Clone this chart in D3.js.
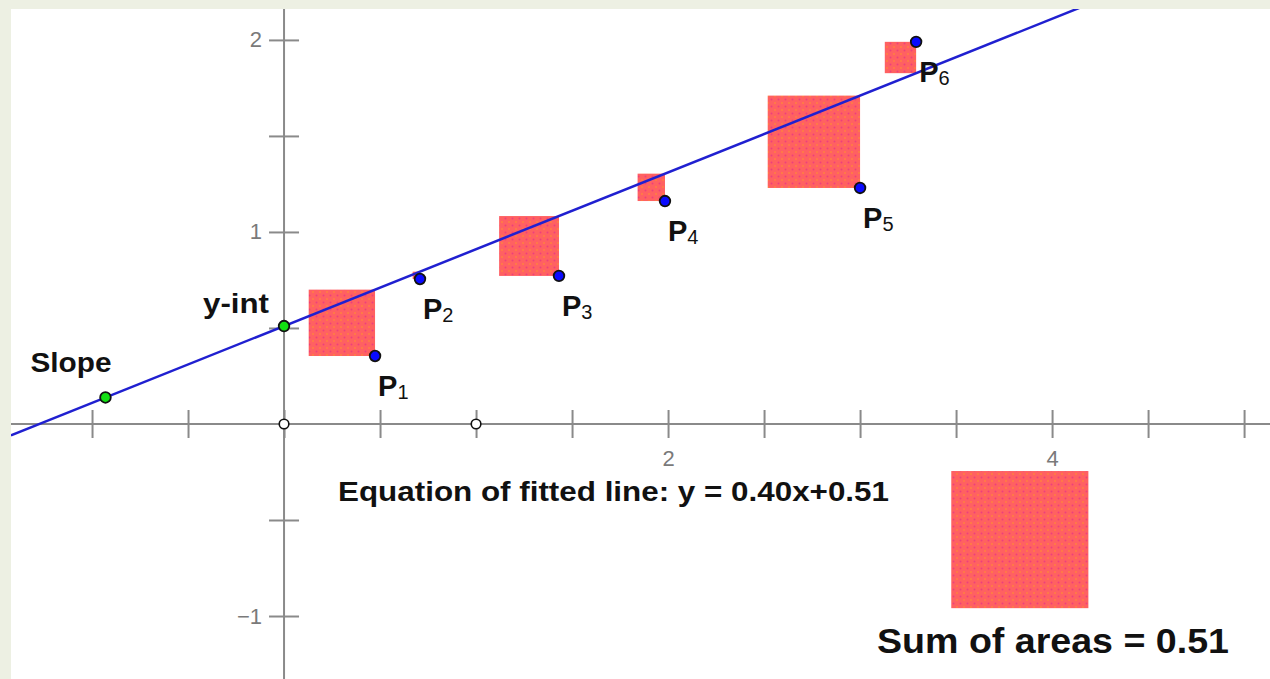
<!DOCTYPE html>
<html><head><meta charset="utf-8">
<script src="https://cdn.jsdelivr.net/npm/d3@7"></script>
<style>html,body{margin:0;padding:0;background:#edf0e3;overflow:hidden}</style>
</head><body><svg id="c" width="1270" height="679"></svg>
<script>
// ---- data ----
const pointNames = ["1", "2", "3", "4", "5", "6"];
const pointX = [0.474, 0.708, 1.432, 1.984, 3.0, 3.292];
const pointY = [0.354, 0.755, 0.771, 1.161, 1.229, 1.99];
const slope = 0.40;
const intercept = 0.51;
const slopeHandleX = -0.93;
const unitPointsX = [0, 1];
const sumOfAreas = 0.51;
const sumSquareCorner = [3.475, -0.245]; // top-left corner, graph units
const xTicks = [-1, -0.5, 0, 0.5, 1, 1.5, 2, 2.5, 3, 3.5, 4, 4.5, 5];
const xTickLabels = [2, 4];
const yTicks = [-1, -0.5, 0.5, 1, 1.5, 2];
const yTickLabels = [2, 1, -1];

// ---- setup ----
const svg = d3.select("#c");
const W = 1270, H = 679, L = 11, T = 9;
const x = d3.scaleLinear().domain([-1.422, 5.135]).range([L, W]);
const y = d3.scaleLinear().domain([-1.328, 2.161]).range([H, T]);
const FONT = "'Liberation Sans', Arial, sans-serif";

const defs = svg.append("defs");
defs.append("clipPath").attr("id", "clip").append("rect")
  .attr("x", L).attr("y", T).attr("width", W - L).attr("height", H - T);
const pat = defs.append("pattern").attr("id", "dots").attr("patternUnits", "userSpaceOnUse")
  .attr("width", 7).attr("height", 7);
pat.append("rect").attr("width", 7).attr("height", 7).attr("fill", "#ff6161");
pat.append("circle").attr("cx", 1.5).attr("cy", 1.5).attr("r", 1).attr("fill", "#ee3f7c");
pat.append("circle").attr("cx", 5).attr("cy", 5).attr("r", 1).attr("fill", "#ff7f40");

svg.append("rect").attr("x", L).attr("y", T).attr("width", W - L).attr("height", H - T).attr("fill", "#ffffff");
const g = svg.append("g").attr("clip-path", "url(#clip)");

// ---- axes ----
const axisColor = "#8a8a8a";
const xAxis = g.append("g").attr("transform", `translate(0,${y(0)})`)
  .call(d3.axisBottom(x).tickValues(xTicks).tickSizeOuter(0).tickSizeInner(0).tickPadding(0)
    .tickFormat(d => xTickLabels.includes(d) ? d3.format("d")(d) : ""));
const yAxis = g.append("g").attr("transform", `translate(${x(0)},0)`)
  .call(d3.axisLeft(y).tickValues(yTicks).tickSizeOuter(0).tickSizeInner(0).tickPadding(0)
    .tickFormat(d => yTickLabels.includes(d) ? d3.format("d")(d).replace("-", "\u2212") : ""));
xAxis.select(".domain").attr("d", `M${L},0H${W}`);
yAxis.select(".domain").attr("d", `M0,${T}V${H}`);
[xAxis, yAxis].forEach(a => {
  a.select(".domain").attr("stroke", axisColor).attr("stroke-width", 2);
  a.selectAll(".tick line").attr("stroke", axisColor).attr("stroke-width", 2);
  a.selectAll(".tick text").attr("fill", "#7a7a7a").attr("font-family", FONT).attr("font-size", 22);
});
xAxis.selectAll(".tick line").attr("y1", -14).attr("y2", 14);
xAxis.selectAll(".tick text").attr("y", 26);
yAxis.selectAll(".tick line").attr("x1", -15).attr("x2", 15);
yAxis.selectAll(".tick text").attr("x", -22);

// ---- residual squares ----
const pts = pointX.map((px, i) => ({ name: pointNames[i], px, py: pointY[i], fit: slope * px + intercept }));
g.selectAll("rect.res").data(pts).enter().append("rect").attr("class", "res")
  .attr("x", d => x(d.px - Math.abs(d.py - d.fit)))
  .attr("width", d => x(d.px) - x(d.px - Math.abs(d.py - d.fit)))
  .attr("y", d => Math.min(y(d.py), y(d.fit)))
  .attr("height", d => Math.abs(y(d.py) - y(d.fit)))
  .attr("fill", "url(#dots)");

// sum of areas square
const side = Math.sqrt(sumOfAreas);
g.append("rect")
  .attr("x", x(sumSquareCorner[0])).attr("y", y(sumSquareCorner[1]))
  .attr("width", x(sumSquareCorner[0] + side) - x(sumSquareCorner[0]))
  .attr("height", y(sumSquareCorner[1] - side) - y(sumSquareCorner[1]))
  .attr("fill", "url(#dots)");

// ---- fitted line ----
const lineX = x.domain();
g.append("path")
  .datum(lineX.map(v => [v, slope * v + intercept]))
  .attr("d", d3.line().x(d => x(d[0])).y(d => y(d[1])))
  .attr("stroke", "#2020d0").attr("stroke-width", 2.5).attr("fill", "none");

// ---- points ----
g.selectAll("circle.unit").data(unitPointsX).enter().append("circle")
  .attr("cx", d => x(d)).attr("cy", y(0)).attr("r", 4.8)
  .attr("fill", "#fff").attr("stroke", "#111").attr("stroke-width", 1.6);
const handles = [slopeHandleX, 0];
g.selectAll("circle.handle").data(handles).enter().append("circle")
  .attr("cx", d => x(d)).attr("cy", d => y(slope * d + intercept)).attr("r", 5.3)
  .attr("fill", "#12e012").attr("stroke", "#111").attr("stroke-width", 1.8);
g.selectAll("circle.pt").data(pts).enter().append("circle")
  .attr("cx", d => x(d.px)).attr("cy", d => y(d.py)).attr("r", 5.3)
  .attr("fill", "#0a0aff").attr("stroke", "#111").attr("stroke-width", 1.8);

// ---- labels ----
const lab = g.selectAll("text.pl").data(pts).enter().append("text")
  .attr("x", d => x(d.px) + 3).attr("y", d => y(d.py) + 40)
  .attr("font-family", FONT).attr("fill", "#111");
lab.append("tspan").attr("font-weight", "bold").attr("font-size", 29).text("P");
lab.append("tspan").attr("font-size", 20).attr("dy", 3).text(d => d.name);

g.append("text").attr("x", x(slopeHandleX) - 75).attr("y", y(slope * slopeHandleX + intercept) - 25)
  .attr("font-family", FONT).attr("font-weight", "bold").attr("font-size", 27)
  .attr("textLength", 81).attr("lengthAdjust", "spacingAndGlyphs").attr("fill", "#111").text("Slope");
g.append("text").attr("x", x(0) - 81).attr("y", y(intercept) - 13)
  .attr("font-family", FONT).attr("font-weight", "bold").attr("font-size", 27)
  .attr("textLength", 66).attr("lengthAdjust", "spacingAndGlyphs").attr("fill", "#111").text("y-int");

g.append("text").attr("x", 338).attr("y", 501)
  .attr("font-family", FONT).attr("font-weight", "bold").attr("font-size", 28)
  .attr("textLength", 551).attr("lengthAdjust", "spacingAndGlyphs").attr("fill", "#111")
  .text(`Equation of fitted line: y = ${slope.toFixed(2)}x+${intercept.toFixed(2)}`);
g.append("text").attr("x", 877).attr("y", 653)
  .attr("font-family", FONT).attr("font-weight", "bold").attr("font-size", 35)
  .attr("textLength", 352).attr("lengthAdjust", "spacingAndGlyphs").attr("fill", "#111")
  .text(`Sum of areas = ${sumOfAreas.toFixed(2)}`);
</script></body></html>
